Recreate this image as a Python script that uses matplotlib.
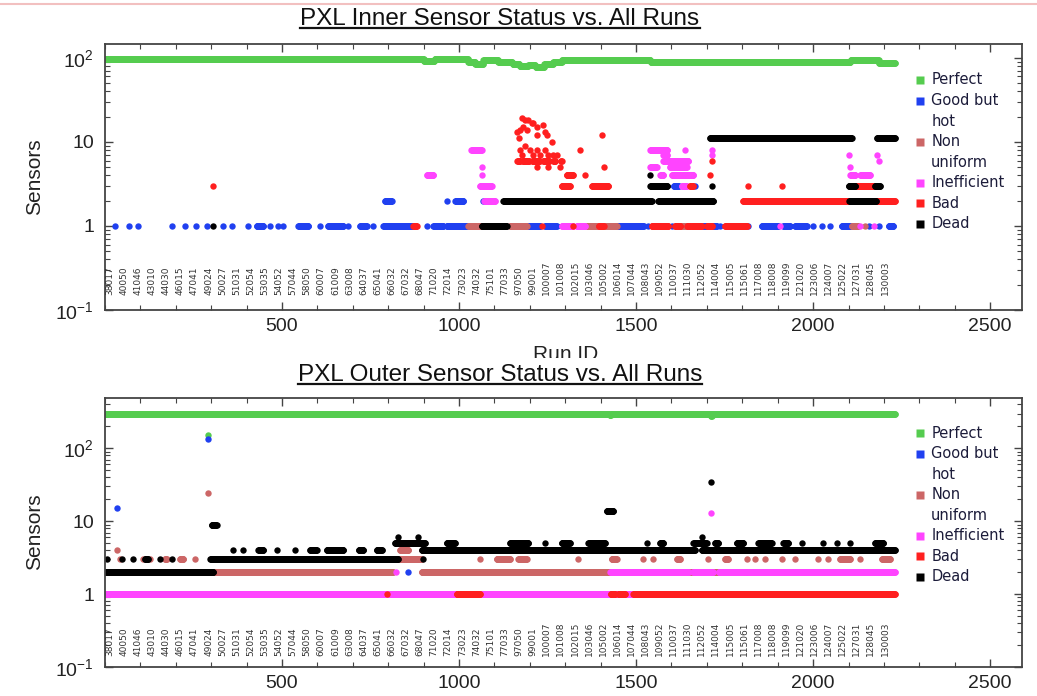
import numpy as np
import matplotlib
matplotlib.use("Agg")
import matplotlib.pyplot as plt
from matplotlib.lines import Line2D
from matplotlib.patches import Rectangle
from matplotlib.transforms import IdentityTransform
from matplotlib.ticker import FixedLocator, FixedFormatter, MultipleLocator, LogLocator, NullFormatter

plt.rcParams['font.family'] = ['Liberation Sans', 'DejaVu Sans']
plt.rcParams['mathtext.fontset'] = 'custom'
plt.rcParams['mathtext.rm'] = 'Liberation Sans'

# run numbers printed inside the plots
run_labels = [
    "38017", "40050", "41046", "43010", "44030", "46015", "47041", "49024",
    "50027", "51031", "52054", "53035", "54052", "57044", "58050", "60007",
    "61009", "63008", "64037", "65041", "66032", "67032", "68047", "71020",
    "72014", "73023", "74032", "75101", "77033", "97050", "99001", "100007",
    "101008", "102015", "103046", "105002", "106014", "107044", "108043",
    "109052", "110037", "111030", "112052", "114004", "115005", "115061",
    "117008", "118008", "119099", "121020", "123006", "124007", "125022",
    "127031", "128045", "130003",
]
label_first = 14
label_step = 39.8

status_names = ["Perfect", "Good but\nhot", "Non\nuniform", "Inefficient", "Bad", "Dead"]
status_colors = ["#55cc4f", "#2040f0", "#cc6666", "#ff44ff", "#ff1f1f", "#000000"]

# every entry: (first run id, last run id, number of sensors)
# ---------------- PXL inner ----------------
inner_perfect = [
    (0, 900, 97), (901, 930, 91), (931, 1025, 97), (1026, 1045, 90), (1046, 1068, 85),
    (1069, 1110, 93), (1111, 1150, 90), (1151, 1170, 85), (1171, 1195, 79), (1196, 1215, 83),
    (1216, 1240, 78), (1241, 1265, 84), (1266, 1290, 90), (1291, 1540, 95), (1541, 2105, 89),
    (2106, 2185, 93), (2186, 2231, 87),
]
inner_hot = [
    (28, 28, 1), (69, 69, 1), (94, 94, 1), (188, 188, 1), (226, 226, 1), (257, 257, 1),
    (287, 287, 1), (334, 334, 1), (358, 358, 1), (405, 405, 1), (428, 447, 1), (466, 466, 1),
    (490, 490, 1), (504, 504, 1), (546, 574, 1), (607, 607, 1), (630, 673, 1), (687, 687, 1),
    (720, 739, 1), (758, 758, 1), (786, 866, 1), (909, 909, 1), (927, 956, 1), (965, 1022, 1),
    (1196, 1229, 1), (1243, 1276, 1), (1445, 1521, 1), (1535, 1535, 1), (1601, 1601, 1),
    (1690, 1700, 1), (1715, 1728, 1), (1737, 1737, 1), (1817, 1817, 1), (1855, 1902, 1),
    (1916, 1935, 1), (1949, 1982, 1), (2001, 2001, 1), (2025, 2025, 1), (2048, 2048, 1),
    (2081, 2109, 1), (2157, 2157, 1), (2185, 2185, 1), (2213, 2227, 1),
    (791, 810, 2), (965, 965, 2), (989, 1012, 2), (1069, 1069, 2),
    (1606, 1620, 3), (1666, 1666, 3),
]
inner_nonuniform = [
    (1026, 1059, 1), (1144, 1191, 1), (1361, 1389, 1), (1412, 1445, 1), (1625, 1645, 1),
    (2109, 2127, 1), (2147, 2147, 1),
]
inner_inefficient = [
    (909, 927, 4), (1035, 1064, 8), (1064, 1064, 5), (1064, 1064, 4), (1059, 1092, 3),
    (1071, 1102, 2), (1290, 1322, 1), (1332, 1356, 1),
    (1540, 1588, 8), (1638, 1638, 8), (1577, 1587, 7), (1577, 1648, 6), (1540, 1558, 5),
    (1596, 1643, 5), (1568, 1577, 4), (1601, 1662, 4), (1629, 1643, 3),
    (1714, 1714, 8), (1714, 1714, 7), (1907, 1907, 1), (2102, 2102, 7), (2105, 2105, 5),
    (2105, 2119, 4), (2133, 2161, 4), (2180, 2180, 7), (2185, 2185, 6), (2133, 2133, 1),
    (2171, 2171, 1),
]
inner_bad = [
    (306, 306, 3), (871, 880, 1), (1234, 1234, 1), (1323, 1323, 1), (1394, 1408, 1),
    (1544, 1591, 1), (1610, 1625, 1), (1645, 1652, 1), (1657, 1685, 1), (1700, 1715, 1),
    (1751, 1813, 1),
    (1177, 1177, 19), (1186, 1186, 18), (1196, 1196, 18), (1205, 1205, 17), (1210, 1210, 17),
    (1163, 1163, 13), (1172, 1172, 14), (1182, 1182, 15), (1191, 1191, 14), (1219, 1219, 15),
    (1238, 1238, 16), (1243, 1243, 13), (1221, 1221, 12), (1248, 1248, 12), (1168, 1168, 11),
    (1262, 1262, 10), (1172, 1172, 8), (1177, 1177, 7), (1186, 1186, 9), (1201, 1201, 8),
    (1210, 1210, 7), (1219, 1219, 8), (1229, 1229, 7), (1243, 1243, 8), (1252, 1252, 7),
    (1266, 1266, 7), (1276, 1276, 7), (1165, 1172, 6), (1180, 1198, 6), (1207, 1228, 6),
    (1238, 1255, 6), (1266, 1272, 6), (1288, 1290, 6), (1219, 1219, 5), (1252, 1252, 5),
    (1285, 1285, 5),
    (1342, 1342, 8), (1403, 1403, 12), (1408, 1408, 5), (1304, 1322, 4), (1356, 1356, 4),
    (1290, 1313, 3), (1375, 1422, 3), (1652, 1661, 3), (1714, 1714, 6), (1709, 1709, 4),
    (1817, 1817, 3), (1911, 1911, 3), (1802, 2231, 2), (2119, 2175, 3),
]
inner_dead = [
    (306, 306, 1), (1064, 1135, 1), (1125, 1544, 2), (1563, 1718, 2), (1540, 1588, 3),
    (1714, 1714, 3), (1540, 1540, 4), (1709, 2109, 11), (2180, 2231, 11), (2102, 2178, 2),
    (2100, 2119, 3), (2175, 2189, 3),
]

# ---------------- PXL outer ----------------
outer_perfect = [
    (0, 291, 295), (292, 292, 150), (293, 1424, 295), (1425, 1428, 285), (1429, 1711, 295),
    (1712, 1714, 280), (1715, 2231, 295),
]
outer_hot = [(33, 33, 15), (292, 292, 135), (857, 857, 2)]
outer_nonuniform = [
    (33, 33, 4), (42, 42, 3), (108, 108, 3), (127, 127, 3), (169, 174, 3), (212, 221, 3),
    (254, 254, 3), (292, 292, 24), (306, 814, 2), (894, 1426, 2), (828, 894, 3), (833, 857, 4),
    (1059, 1059, 3), (1106, 1144, 3), (1167, 1191, 3), (1337, 1337, 3), (1431, 1445, 3),
    (1520, 1520, 3), (1549, 1549, 3), (1615, 1624, 3), (1704, 1704, 3), (1751, 1760, 3),
    (1812, 1812, 3), (1836, 1836, 3), (1864, 1864, 3), (1911, 1911, 3), (1949, 1949, 3),
    (2015, 2015, 3), (2043, 2043, 3), (2076, 2104, 3), (2132, 2132, 3), (2194, 2217, 3),
    (1650, 1660, 2), (1718, 1732, 2), (1811, 1813, 2),
]
outer_inefficient = [
    (0, 795, 1), (797, 992, 1), (1060, 1427, 1), (1442, 1449, 1), (1470, 1491, 1),
    (823, 823, 2), (1427, 1649, 2), (1661, 1717, 2), (1733, 1810, 2), (1814, 2231, 2),
    (1713, 1713, 13),
]
outer_bad = [(796, 796, 1), (993, 1059, 1), (1428, 1441, 1), (1450, 1469, 1), (1492, 2231, 1)]
outer_dead = [
    (0, 306, 2), (7, 7, 3), (47, 47, 3), (80, 80, 3), (113, 122, 3), (155, 155, 3),
    (188, 188, 3), (297, 828, 3), (899, 899, 3), (301, 315, 9), (362, 362, 4), (391, 391, 4),
    (433, 447, 4), (485, 485, 4), (537, 537, 4), (579, 598, 4), (626, 673, 4), (716, 730, 4),
    (767, 782, 4), (819, 904, 5), (828, 828, 6), (885, 885, 6), (894, 1666, 4), (965, 989, 5),
    (1144, 1196, 5), (1243, 1243, 5), (1290, 1313, 5), (1365, 1412, 5), (1530, 1530, 5),
    (1567, 1577, 5), (1662, 1699, 5), (1685, 1685, 6), (1723, 1732, 5), (1784, 1803, 5),
    (1845, 1883, 5), (1916, 1930, 5), (1968, 1968, 5), (2029, 2029, 5), (2067, 2067, 5),
    (2104, 2104, 5), (2175, 2198, 5), (1685, 2231, 4), (1417, 1436, 14), (1713, 1713, 34),
]

W, H = 1037, 696


def expand(segments):
    xs, ys = [], []
    for first, last, value in segments:
        runs = np.arange(first, last + 1)
        xs.append(runs)
        ys.append(np.full(len(runs), value, dtype=float))
    return np.concatenate(xs), np.concatenate(ys)


def px_box(left, top, right, bottom):
    return [left / W, 1 - bottom / H, (right - left) / W, (bottom - top) / H]


def draw_panel(ax, series, ytop, label_y, legend_top_px):
    for segs, color in zip(series, status_colors):
        x, y = expand(segs)
        ax.plot(x, y, 'o', ms=4.6, color=color, mec='none')

    ax.set_yscale('log')
    ax.set_ylim(0.1, ytop)
    ax.set_xlim(0, 2590)

    ax.yaxis.set_major_locator(FixedLocator([0.1, 1, 10, 100]))
    ax.yaxis.set_major_formatter(FixedFormatter(
        [r'$\mathregular{10^{-1}}$', '1', '10', r'$\mathregular{10^{2}}$']))
    ax.yaxis.set_minor_locator(LogLocator(base=10, subs=np.arange(2, 10)))
    ax.yaxis.set_minor_formatter(NullFormatter())
    ax.xaxis.set_major_locator(FixedLocator([500, 1000, 1500, 2000, 2500]))
    ax.xaxis.set_minor_locator(MultipleLocator(100))

    ax.tick_params(which='both', direction='in', top=True, right=True,
                   color='#444444', labelsize=14, labelcolor='#222222')
    ax.tick_params(which='major', length=6, width=1)
    ax.tick_params(which='minor', length=3.5, width=0.8)
    ax.tick_params(axis='y', pad=8)
    ax.tick_params(axis='x', pad=6)
    for sp in ax.spines.values():
        sp.set_color('#444444')
        sp.set_linewidth(1.3)

    for i, lab in enumerate(run_labels):
        ax.text(label_first + i * label_step, label_y, lab, rotation=90,
                ha='center', va='bottom', fontsize=6.5, color='#333333',
                family='DejaVu Sans')

    # legend drawn by hand, one text line at a time
    ax_h = ax.get_position().height * H
    step = 20.57 / ax_h
    yline = 1 - legend_top_px / ax_h
    for name, color in zip(status_names, status_colors):
        ax.plot([0.889], [yline], marker='s', ms=6, color=color, mec='none',
                transform=ax.transAxes, clip_on=False)
        for part in name.split("\n"):
            ax.text(0.901, yline, part, transform=ax.transAxes, ha='left', va='center',
                    fontsize=10.5, color='#1c1c3a', family='DejaVu Sans')
            yline -= step


fig = plt.figure(figsize=(10.37, 6.96), dpi=100)
ax_in = fig.add_axes(px_box(105, 44, 1022, 310))
ax_out = fig.add_axes(px_box(105, 398, 1022, 667))

draw_panel(ax_in, [inner_perfect, inner_hot, inner_nonuniform, inner_inefficient,
                   inner_bad, inner_dead], 146, 0.15, 36)
draw_panel(ax_out, [outer_perfect, outer_hot, outer_nonuniform, outer_inefficient,
                    outer_bad, outer_dead], 490, 0.14, 35)

fig.text(35 / W, 1 - 177 / H, "Sensors", rotation=90, ha='center', va='center',
         fontsize=15, color='#222222')
fig.text(35 / W, 1 - 532 / H, "Sensors", rotation=90, ha='center', va='center',
         fontsize=15, color='#222222')
fig.text(566 / W, 1 - 354 / H, "Run ID", ha='center', va='center', fontsize=15,
         color='#222222')

# the lower panel hides the bottom of the "Run ID" label
fig.add_artist(Rectangle((0, 1 - 397 / H), 1, 39 / H, transform=fig.transFigure,
                         facecolor='white', edgecolor='none', zorder=5))
fig.add_artist(Line2D([0, 1], [1 - 4 / H, 1 - 4 / H], transform=fig.transFigure,
                      color='#f2c0c0', lw=1.5, zorder=5))

title_font = dict(ha='center', va='center', fontsize=17.5, color='#111111', zorder=6,
                  family=['Liberation Sans Narrow', 'Liberation Sans'])
titles = [
    fig.text(500 / W, 1 - 19 / H, "PXL Inner Sensor Status vs. All Runs", **title_font),
    fig.text(500 / W, 1 - 375 / H, "PXL Outer Sensor Status vs. All Runs", **title_font),
]

fig.canvas.draw()
renderer = fig.canvas.get_renderer()
for t in titles:
    bb = t.get_window_extent(renderer)
    fig.add_artist(Line2D([bb.x0, bb.x1], [bb.y0 + 2, bb.y0 + 2],
                          transform=IdentityTransform(), color='#111111', lw=1.6, zorder=6))

fig.savefig("out.png", dpi=100)
